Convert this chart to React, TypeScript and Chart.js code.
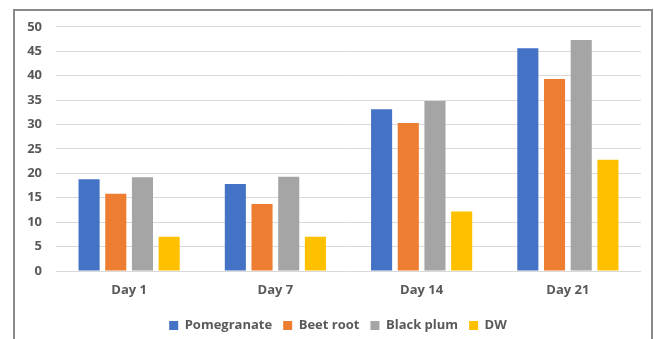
import React, { useEffect, useRef } from "react";
import { Chart, registerables } from "chart.js";

Chart.register(...registerables);

const days = ["Day 1", "Day 7", "Day 14", "Day 21"];
const pomegranate = [18.8, 17.8, 33.1, 45.6];
const beetRoot = [15.8, 13.7, 30.3, 39.3];
const blackPlum = [19.2, 19.3, 34.8, 47.3];
const dw = [7.0, 7.0, 12.2, 22.8];

const seriesNames = ["Pomegranate", "Beet root", "Black plum", "DW"];
const seriesColors = ["#4472C4", "#ED7D31", "#A5A5A5", "#FFC000"];

const FONT = "'Open Sans', 'Liberation Sans', sans-serif";
const TEXT = "#595959";

// nudges the legend row slightly right so it sits under the plot centre
const legendShift = {
  id: "legendShift",
  afterLayout(chart: any) {
    if (chart.legend) {
      chart.legend.left += 4;
      chart.legend.right += 4;
    }
  },
};

export default function App() {
  const canvasRef = useRef<HTMLCanvasElement | null>(null);

  useEffect(() => {
    if (!canvasRef.current) return;
    const values = [pomegranate, beetRoot, blackPlum, dw];
    const chart = new Chart(canvasRef.current, {
      type: "bar",
      data: {
        labels: days,
        datasets: values.map((v, i) => ({
          label: seriesNames[i],
          data: v,
          backgroundColor: seriesColors[i],
          borderWidth: 0,
          categoryPercentage: 0.73,
          barPercentage: 0.79,
        })),
      },
      plugins: [legendShift],
      options: {
        animation: false,
        responsive: false,
        maintainAspectRatio: false,
        layout: { padding: { top: 0, left: 12, right: 10, bottom: 0 } },
        plugins: {
          tooltip: { enabled: false },
          legend: {
            position: "bottom",
            labels: {
              boxWidth: 9,
              boxHeight: 9,
              padding: 11,
              color: TEXT,
              font: { family: FONT, size: 13, weight: "bold" },
            },
          },
        },
        scales: {
          x: {
            grid: { display: false },
            border: { display: false },
            afterFit: (scale: any) => {
              scale.height = 37;
            },
            ticks: {
              color: TEXT,
              padding: 3,
              font: { family: FONT, size: 13, weight: "bold" },
            },
          },
          y: {
            min: 0,
            max: 50,
            grid: { color: "#d9d9d9", lineWidth: 1, drawTicks: false },
            border: { display: false },
            afterFit: (scale: any) => {
              scale.width = 29;
            },
            ticks: {
              stepSize: 5,
              color: TEXT,
              padding: 14,
              font: { family: FONT, size: 13, weight: "bold" },
            },
          },
        },
      },
    });
    return () => chart.destroy();
  }, []);

  return (
    <div
      style={{
        position: "absolute",
        left: 13,
        top: 9,
        width: 640,
        height: 345,
        border: "2px solid #8a8a8a",
        boxSizing: "border-box",
        background: "#fff",
        overflow: "hidden",
      }}
    >
      <canvas
        ref={canvasRef}
        width={636}
        height={337}
        style={{ display: "block", width: 636, height: 337, marginTop: -6 }}
      />
    </div>
  );
}
